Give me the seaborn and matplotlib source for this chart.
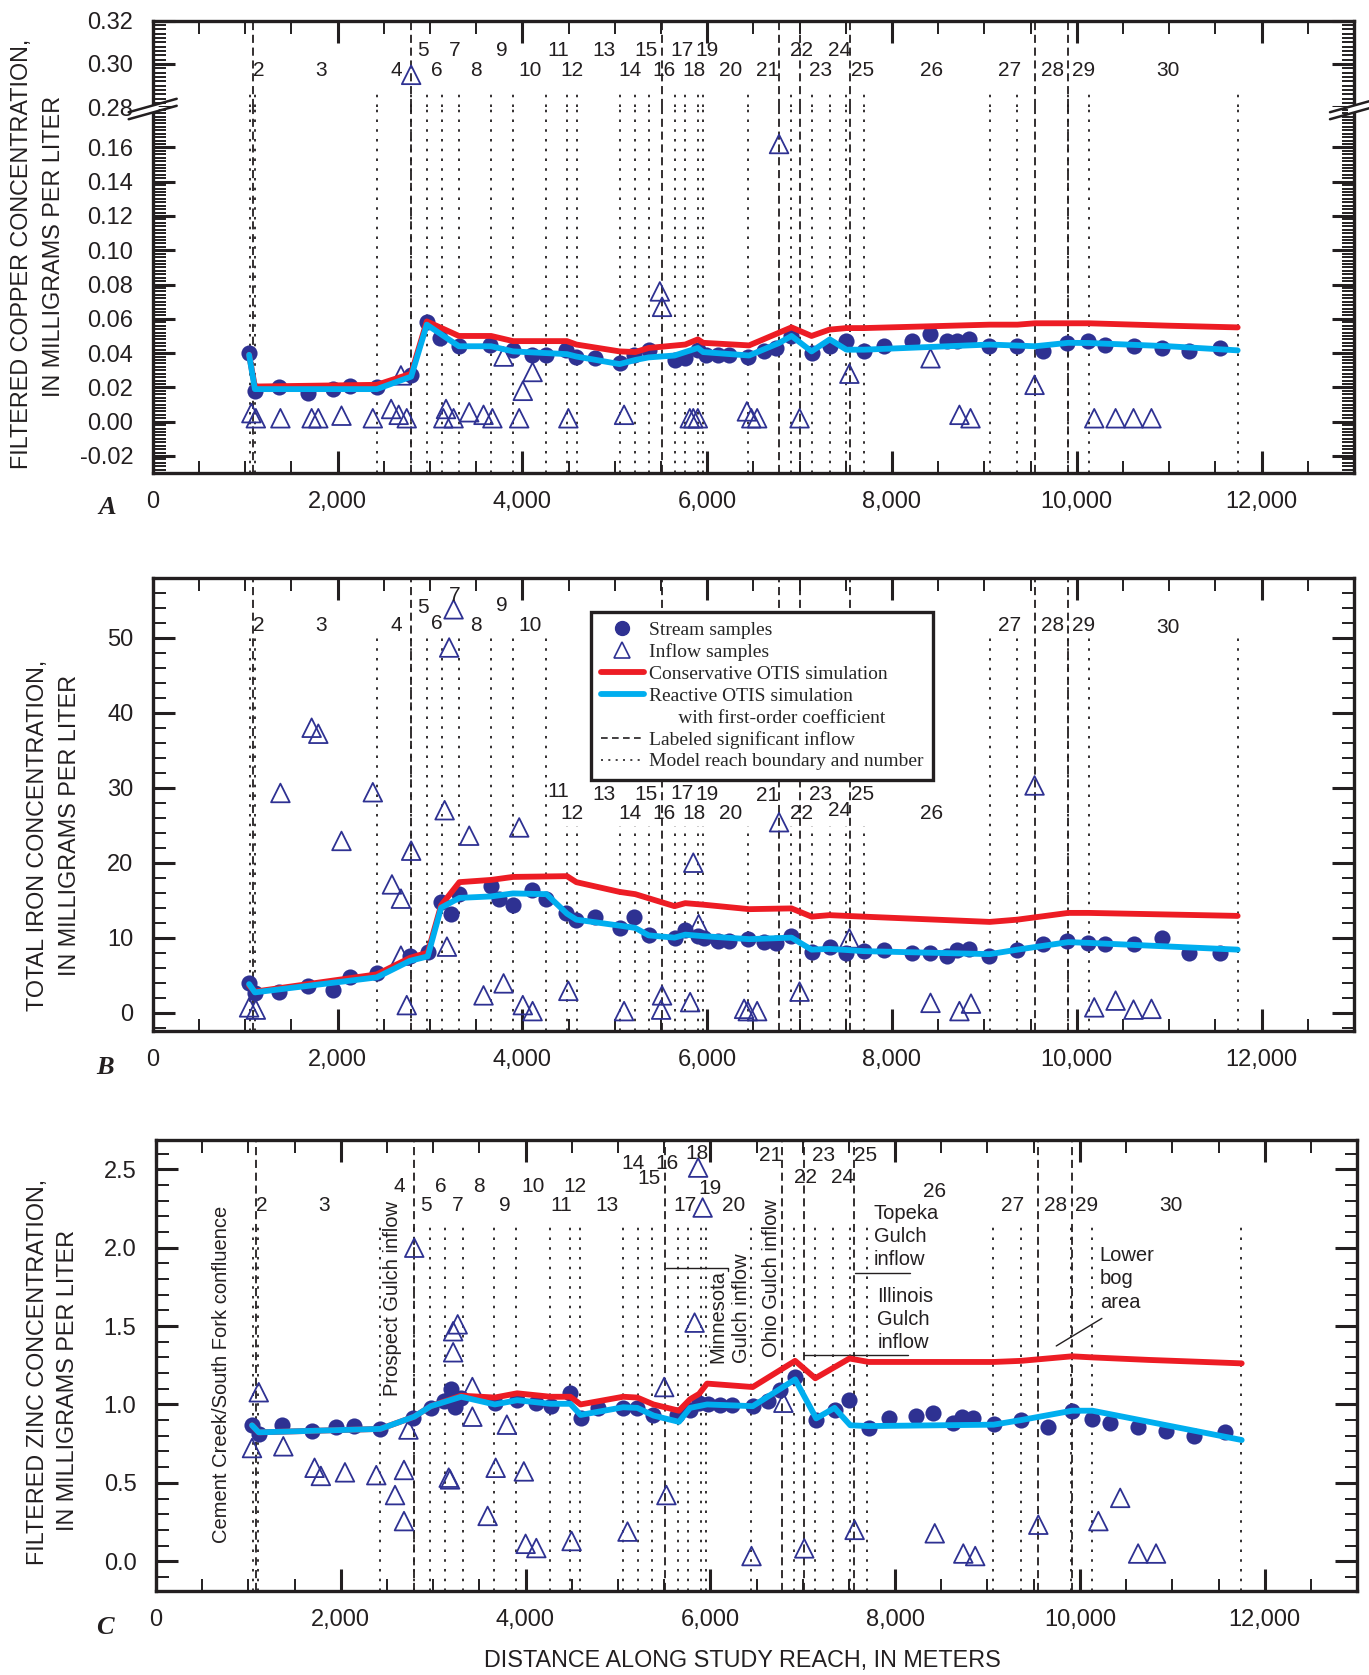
import matplotlib
matplotlib.use("Agg")
import matplotlib.pyplot as plt
import seaborn as sns
import pandas as pd
from matplotlib.lines import Line2D
from matplotlib.patches import Polygon
from matplotlib.ticker import MultipleLocator

# ---------------- DATA ----------------
x_ticks = [0, 2000, 4000, 6000, 8000, 10000, 12000]
x_tick_labels = ["0", "2,000", "4,000", "6,000", "8,000", "10,000", "12,000"]

reach_bounds = [1050, 1110, 2425, 2797, 2971, 3130, 3319, 3662, 3899, 4261, 4483, 4589,
                5053, 5222, 5367, 5647, 5763, 5899, 5957, 6445, 6905, 7133, 7327, 7507,
                7696, 9058, 9358, 9908, 10130, 11741]
inflow_lines = [1080, 2797, 5515, 6780, 7010, 7550, 9550, 9910]

reach_num = list(range(2, 31))
reach_label_x = [1146, 1817, 2639, 2928, 3079, 3264, 3495, 3773, 4086, 4387, 4537, 4884,
                 5162, 5336, 5532, 5729, 5856, 5995, 6250, 6655, 7025, 7222, 7431, 7685,
                 8426, 9271, 9734, 10069, 10984]
cu_label_y = [0.2971, 0.2971, 0.2971, 0.3063, 0.2971, 0.3063, 0.2971, 0.3063, 0.2971, 0.3063,
              0.2971, 0.3063, 0.2971, 0.3063, 0.2971, 0.3063, 0.2971, 0.3063, 0.2971, 0.2971,
              0.3063, 0.2971, 0.3063, 0.2971, 0.2971, 0.2971, 0.2971, 0.2971, 0.2971]
fe_label_y = [51.6, 51.6, 51.6, 54.0, 51.9, 55.6, 51.6, 54.3, 51.6, 29.5, 26.6, 29.1, 26.6,
              29.1, 26.6, 29.2, 26.5, 29.1, 26.5, 28.9, 26.6, 29.1, 26.9, 29.1, 26.6, 51.6,
              51.6, 51.6, 51.4]
zn_label_y = [2.27, 2.27, 2.39, 2.27, 2.39, 2.27, 2.39, 2.27, 2.39, 2.27, 2.39, 2.27, 2.54,
              2.44, 2.54, 2.27, 2.60, 2.38, 2.27, 2.59, 2.45, 2.59, 2.45, 2.59, 2.36, 2.27,
              2.27, 2.27, 2.27]

# Copper (panel A)
cu_stream_x = [1043, 1106, 1367, 1686, 1947, 2140, 2425, 2797, 2966, 3111, 3314, 3652, 3899,
               4101, 4256, 4473, 4585, 4787, 5053, 5213, 5367, 5647, 5763, 5899, 5986, 6116,
               6237, 6440, 6614, 6744, 6903, 7130, 7327, 7498, 7696, 7909, 8214, 8407, 8592,
               8708, 8832, 9054, 9354, 9635, 9898, 10124, 10309, 10623, 10923, 11214, 11546]
cu_stream_y = [0.040, 0.018, 0.0205, 0.017, 0.019, 0.021, 0.020, 0.027, 0.058, 0.049, 0.044,
               0.045, 0.042, 0.039, 0.039, 0.042, 0.038, 0.037, 0.034, 0.039, 0.042, 0.036,
               0.037, 0.042, 0.039, 0.039, 0.039, 0.0375, 0.041, 0.043, 0.050, 0.040, 0.044,
               0.047, 0.041, 0.044, 0.047, 0.051, 0.047, 0.047, 0.048, 0.044, 0.044, 0.041,
               0.046, 0.047, 0.045, 0.044, 0.043, 0.041, 0.043]
cu_inflow_x = [1068, 1116, 1382, 1720, 1792, 2043, 2382, 2580, 2662, 2749, 2686, 2797, 3174,
               3145, 3256, 3425, 3580, 3676, 3797, 3966, 4005, 4111, 4498, 5101, 5488, 5512,
               5812, 5850, 5899, 6430, 6478, 6541, 6778, 7000, 7539, 8417, 8730, 8850, 9543,
               10189, 10420, 10614, 10808]
cu_inflow_y = [0.005, 0.002, 0.002, 0.002, 0.002, 0.0035, 0.002, 0.0074, 0.004, 0.002, 0.027,
               0.295, 0.0074, 0.002, 0.002, 0.0055, 0.004, 0.002, 0.038, 0.002, 0.018, 0.029,
               0.002, 0.004, 0.076, 0.067, 0.002, 0.002, 0.002, 0.006, 0.002, 0.002, 0.162,
               0.002, 0.028, 0.037, 0.004, 0.002, 0.0215, 0.002, 0.002, 0.002, 0.002]
cu_cons_x = [1043, 1106, 2425, 2797, 2966, 3314, 3662, 3899, 4483, 4585, 5053, 5222, 5367,
             5763, 5899, 5957, 6454, 6913, 7130, 7323, 7507, 7696, 9058, 9358, 9548, 10130,
             10993, 11741]
cu_cons_y = [0.039, 0.0205, 0.0215, 0.028, 0.0585, 0.050, 0.050, 0.047, 0.047, 0.045, 0.041,
             0.0406, 0.043, 0.045, 0.048, 0.046, 0.0445, 0.055, 0.050, 0.0537, 0.0546, 0.0546,
             0.0566, 0.0566, 0.0574, 0.0574, 0.056, 0.055]
cu_reac_x = [1043, 1106, 2425, 2797, 2966, 3314, 3662, 3899, 4483, 4585, 5053, 5222, 5367,
             5647, 5899, 5957, 6454, 6778, 6913, 7130, 7327, 7507, 7696, 9058, 9548, 9908,
             10130, 10993, 11741]
cu_reac_y = [0.039, 0.019, 0.019, 0.0263, 0.0566, 0.044, 0.044, 0.041, 0.0394, 0.038, 0.0336,
             0.036, 0.0375, 0.0386, 0.043, 0.0406, 0.0386, 0.0459, 0.050, 0.041, 0.048, 0.042,
             0.042, 0.045, 0.044, 0.046, 0.0459, 0.044, 0.0416]

# Iron (panel B)
fe_stream_x = [1043, 1106, 1367, 1676, 1947, 2140, 2425, 2783, 2976, 3121, 3232, 3319, 3657,
               3749, 3894, 4101, 4261, 4473, 4585, 4787, 5053, 5208, 5367, 5647, 5763, 5899,
               5971, 6116, 6237, 6440, 6614, 6744, 6903, 7130, 7327, 7498, 7696, 7909, 8214,
               8407, 8592, 8708, 8832, 9054, 9354, 9635, 9898, 10124, 10309, 10623, 10923,
               11214, 11546]
fe_stream_y = [4.0, 2.6, 2.7, 3.5, 3.0, 4.7, 5.3, 7.6, 8.1, 14.7, 13.2, 15.8, 16.9, 15.1, 14.4,
               16.3, 15.2, 13.3, 12.4, 12.8, 11.3, 12.8, 10.4, 10.0, 11.0, 10.2, 10.0, 9.6, 9.6,
               9.8, 9.4, 9.3, 10.2, 8.1, 8.7, 8.0, 8.2, 8.4, 7.9, 8.0, 7.6, 8.4, 8.5, 7.6, 8.4,
               9.1, 9.6, 9.3, 9.1, 9.1, 9.9, 8.0, 7.9]
fe_inflow_x = [1043, 1116, 1382, 1720, 1792, 2043, 2382, 2589, 2686, 2797, 2749, 2686, 3159,
               3208, 3256, 3184, 3425, 3580, 3797, 3966, 4005, 4111, 4498, 5101, 5512, 5502,
               5816, 5850, 5908, 6400, 6440, 6541, 6778, 7000, 7539, 8417, 8730, 8855, 9543,
               10189, 10420, 10614, 10808]
fe_inflow_y = [0.7, 0.4, 29.3, 38.0, 37.2, 22.9, 29.4, 17.1, 15.2, 21.6, 1.0, 7.6, 27.0, 48.7,
               53.8, 8.8, 23.6, 2.3, 3.9, 24.7, 1.0, 0.2, 2.9, 0.2, 2.3, 0.4, 1.4, 20.0, 11.8,
               0.5, 0.2, 0.2, 25.4, 2.8, 9.9, 1.3, 0.2, 1.2, 30.3, 0.7, 1.6, 0.4, 0.5]
fe_cons_x = [1043, 1106, 2425, 2783, 2976, 3121, 3319, 3662, 3899, 4483, 4585, 5053, 5222,
             5647, 5763, 5957, 6454, 6913, 7130, 7323, 7696, 9058, 9358, 9908, 10130, 11741]
fe_cons_y = [3.6, 2.8, 5.1, 7.3, 8.0, 14.3, 17.4, 17.7, 18.1, 18.2, 17.4, 16.1, 15.8, 14.2,
             14.6, 14.4, 13.8, 13.9, 12.8, 13.0, 12.8, 12.1, 12.4, 13.3, 13.3, 12.9]
fe_reac_x = [1043, 1106, 2425, 2783, 2976, 3121, 3319, 3662, 3899, 4261, 4483, 4585, 5053,
             5222, 5367, 5647, 5763, 5957, 6454, 6913, 7130, 7323, 7696, 9058, 9358, 9908,
             10130, 11741]
fe_reac_y = [3.8, 2.7, 4.7, 6.9, 7.5, 14.0, 15.3, 15.5, 15.9, 15.8, 13.2, 12.4, 11.6, 11.3,
             10.3, 10.0, 10.4, 10.2, 9.8, 10.0, 8.4, 8.5, 8.2, 7.8, 8.4, 9.4, 9.3, 8.4]

# Zinc (panel C)
zn_stream_x = [1040, 1113, 1369, 1684, 1945, 2143, 2429, 2782, 2975, 3120, 3193, 3241, 3304,
               3667, 3909, 4112, 4272, 4485, 4596, 4789, 5056, 5210, 5385, 5636, 5781, 5878,
               5975, 6110, 6231, 6459, 6625, 6754, 6916, 7140, 7345, 7506, 7714, 7931, 8231,
               8415, 8623, 8724, 8840, 9066, 9361, 9652, 9915, 10136, 10321, 10630, 10930,
               11230, 11566]
zn_stream_y = [0.867, 0.811, 0.867, 0.833, 0.856, 0.862, 0.844, 0.916, 0.978, 1.022, 1.100,
               0.982, 1.044, 1.011, 1.027, 1.011, 0.989, 1.071, 0.911, 0.978, 0.978, 0.978,
               0.933, 0.933, 0.967, 1.011, 1.0, 0.996, 0.996, 0.989, 1.022, 1.095, 1.173, 0.90,
               0.967, 1.029, 0.849, 0.916, 0.929, 0.944, 0.884, 0.922, 0.916, 0.878, 0.90,
               0.856, 0.956, 0.907, 0.884, 0.856, 0.833, 0.796, 0.822]
zn_inflow_x = [1040, 1113, 1379, 1717, 1785, 2046, 2385, 2685, 2588, 2685, 2733, 2796, 3169,
               3183, 3217, 3217, 3266, 3425, 3425, 3590, 3677, 3798, 3982, 4001, 4117, 4499,
               5104, 5501, 5525, 5830, 5868, 5917, 6446, 6791, 7017, 7562, 8429, 8738, 8867,
               9550, 10200, 10436, 10630, 10824]
zn_inflow_y = [0.722, 1.078, 0.733, 0.596, 0.544, 0.567, 0.549, 0.582, 0.422, 0.256, 0.84, 2.0,
               0.533, 0.522, 1.333, 1.467, 1.511, 1.111, 0.922, 0.289, 0.596, 0.871, 0.573,
               0.111, 0.084, 0.129, 0.189, 1.111, 0.422, 1.522, 2.511, 2.256, 0.033, 1.011,
               0.082, 0.20, 0.178, 0.049, 0.033, 0.233, 0.256, 0.404, 0.049, 0.049]
zn_cons_x = [1040, 1113, 2429, 2796, 2975, 3304, 3667, 3909, 4272, 4485, 4596, 5056, 5210,
             5385, 5660, 5781, 5878, 5965, 6459, 6918, 7136, 7506, 7714, 9066, 9361, 9915,
             10136, 10745, 11751]
zn_cons_y = [0.867, 0.822, 0.844, 0.922, 0.989, 1.056, 1.044, 1.071, 1.049, 1.049, 1.0, 1.049,
             1.044, 1.0, 0.96, 1.033, 1.067, 1.133, 1.111, 1.278, 1.167, 1.293, 1.271, 1.271,
             1.278, 1.307, 1.30, 1.284, 1.262]
zn_reac_x = [1040, 1113, 2429, 2796, 2975, 3304, 3667, 3909, 4272, 4485, 4596, 5056, 5210,
             5385, 5660, 5781, 5965, 6459, 6758, 6918, 7146, 7345, 7515, 7714, 9066, 9361,
             9915, 10136, 11751]
zn_reac_y = [0.867, 0.822, 0.844, 0.922, 0.989, 1.049, 1.0, 1.027, 1.004, 1.004, 0.933, 0.982,
             0.978, 0.929, 0.889, 0.978, 1.0, 0.989, 1.10, 1.16, 0.911, 0.978, 0.867, 0.862,
             0.871, 0.90, 0.96, 0.96, 0.773]

legend_labels = ["Stream samples", "Inflow samples", "Conservative OTIS simulation",
                 "Reactive OTIS simulation", "      with first-order coefficient",
                 "Labeled significant inflow", "Model reach boundary and number"]

# ---------------- STYLE ----------------
sns.set_style("white")
plt.rcParams['font.family'] = ['Liberation Sans', 'DejaVu Sans']
plt.rcParams['axes.unicode_minus'] = False

NAVY = '#2E3192'
RED = '#ED1C24'
CYAN = '#00AEEF'
INK = '#231F20'
DOT = (0, (1.4, 4.0))
DASH = (0, (4.5, 2.6))
TICK_FS = 17
NUM_FS = 15
LAB_FS = 16.8

W, H = 1369, 1675
fig = plt.figure(figsize=(W / 100, H / 100), dpi=100)


def box(l, r, t, b):
    return [l / W, 1 - b / H, (r - l) / W, (b - t) / H]


axA_up = fig.add_axes(box(152.7, 1354, 20.7, 107.3))
axA = fig.add_axes(box(152.7, 1354, 107.3, 473.1))
axB = fig.add_axes(box(152.7, 1354, 577.8, 1030.6))
axC = fig.add_axes(box(155.9, 1357.1, 1139.5, 1591))


def style(ax, top=True, bottom=True, xlabels=True):
    for s in ax.spines.values():
        s.set_linewidth(2.4)
        s.set_color(INK)
    ax.set_xlim(0, 13000)
    ax.set_xticks(x_ticks, labels=x_tick_labels if xlabels else [])
    ax.xaxis.set_minor_locator(MultipleLocator(500))
    ax.tick_params(which='both', direction='in', top=top, bottom=bottom,
                   left=True, right=True, colors=INK, labelsize=TICK_FS,
                   labelbottom=xlabels, labeltop=False)
    ax.tick_params(which='major', length=16, width=2.2)
    ax.tick_params(which='minor', length=9, width=1.4)
    ax.tick_params(axis='x', which='major', pad=13)
    ax.tick_params(axis='y', which='major', pad=14)
    ax.set_xlabel("")
    ax.set_ylabel("")


def draw_data(ax, sx, sy, ix, iy, cx, cy, rx, ry):
    sns.scatterplot(x=ix, y=iy, ax=ax, marker='^', s=180, facecolor='none',
                    edgecolor=NAVY, linewidth=1.3, color=NAVY, zorder=3, legend=False)
    sns.scatterplot(x=sx, y=sy, ax=ax, marker='o', s=135, color=NAVY,
                    edgecolor=NAVY, linewidth=0, zorder=4, legend=False)
    sns.lineplot(x=cx, y=cy, ax=ax, color=RED, linewidth=4.2, sort=False,
                 estimator=None, zorder=5, legend=False)
    sns.lineplot(x=rx, y=ry, ax=ax, color=CYAN, linewidth=4.2, sort=False,
                 estimator=None, zorder=6, legend=False)


# ---------------- PANEL A ----------------
A_LO, A_HI = -0.03, 0.1834
for ax in (axA, axA_up):
    draw_data(ax, cu_stream_x, cu_stream_y, cu_inflow_x, cu_inflow_y,
              cu_cons_x, cu_cons_y, cu_reac_x, cu_reac_y)
    for xv in inflow_lines:
        ax.axvline(xv, color=INK, lw=1.3, linestyle=DASH, zorder=2)

axA.vlines(reach_bounds, A_LO, A_HI, colors=INK, linewidth=1.3, linestyles=DOT, zorder=2)
axA_up.vlines(reach_bounds, 0.28, 0.2884, colors=INK, linewidth=1.3, linestyles=DOT, zorder=2)

style(axA, top=False, bottom=True)
axA.set_ylim(A_LO, A_HI)
cu_ticks = [-0.02, 0.00, 0.02, 0.04, 0.06, 0.08, 0.10, 0.12, 0.14, 0.16]
axA.set_yticks(cu_ticks, labels=["%.2f" % v for v in cu_ticks])
axA.yaxis.set_minor_locator(MultipleLocator(0.002))
axA.spines['top'].set_visible(False)

style(axA_up, top=True, bottom=False, xlabels=False)
axA_up.set_ylim(0.28, 0.32)
axA_up.set_yticks([0.28, 0.30, 0.32], labels=["0.28", "0.30", "0.32"])
axA_up.yaxis.set_minor_locator(MultipleLocator(0.002))
axA_up.spines['bottom'].set_visible(False)

for n, xv, yv in zip(reach_num, reach_label_x, cu_label_y):
    axA_up.text(xv, yv, str(n), ha='center', va='center', fontsize=NUM_FS, color=INK, zorder=7)


def break_mark(xc, yc):
    dx, sl, gap = 24, 0.28, 7
    f = lambda x, y: (x / W, 1 - y / H)
    pts = [f(xc - 6, yc - gap / 2 + 6 * sl), f(xc + 6, yc - gap / 2 - 6 * sl),
           f(xc + 6, yc + gap / 2 - 6 * sl), f(xc - 6, yc + gap / 2 + 6 * sl)]
    fig.add_artist(Polygon(pts, closed=True, facecolor='white', edgecolor='none',
                           transform=fig.transFigure, zorder=10))
    for off in (-gap / 2, gap / 2):
        p0 = f(xc - dx, yc + off + dx * sl)
        p1 = f(xc + dx, yc + off - dx * sl)
        fig.add_artist(Line2D([p0[0], p1[0]], [p0[1], p1[1]], color=INK, lw=1.8,
                              transform=fig.transFigure, zorder=11))


break_mark(152.7, 109)
break_mark(1354, 109)

# ---------------- PANEL B ----------------
draw_data(axB, fe_stream_x, fe_stream_y, fe_inflow_x, fe_inflow_y,
          fe_cons_x, fe_cons_y, fe_reac_x, fe_reac_y)
for xv in inflow_lines:
    axB.axvline(xv, color=INK, lw=1.3, linestyle=DASH, zorder=2)
B_LO, B_HI = -2.4, 58
fe_tops = [24.9 if 4400 < b < 8000 else 50.0 for b in reach_bounds]
axB.vlines(reach_bounds, B_LO, fe_tops, colors=INK, linewidth=1.3, linestyles=DOT, zorder=2)
style(axB)
axB.set_ylim(B_LO, B_HI)
axB.set_yticks([0, 10, 20, 30, 40, 50], labels=["0", "10", "20", "30", "40", "50"])
axB.yaxis.set_minor_locator(MultipleLocator(2))
for n, xv, yv in zip(reach_num, reach_label_x, fe_label_y):
    axB.text(xv, yv, str(n), ha='center', va='center', fontsize=NUM_FS, color=INK, zorder=7)

handles = [
    Line2D([], [], marker='o', linestyle='none', color=NAVY, markersize=10),
    Line2D([], [], marker='^', linestyle='none', markerfacecolor='none',
           markeredgecolor=NAVY, markersize=11, markeredgewidth=1.2),
    Line2D([], [], color=RED, lw=4.2),
    Line2D([], [], color=CYAN, lw=4.2),
    Line2D([], [], linestyle='none'),
    Line2D([], [], color=INK, lw=1.2, linestyle=(0, (4, 2.6))),
    Line2D([], [], color=INK, lw=1.2, linestyle=(0, (1.2, 3.2))),
]
leg = axB.legend(handles, legend_labels, loc='upper left', bbox_to_anchor=(0.365, 0.925),
                 borderaxespad=0, frameon=True, fancybox=False, handlelength=2.2,
                 handletextpad=0.25, labelspacing=0.215, borderpad=0.5,
                 prop={'family': ['Liberation Serif', 'DejaVu Serif'], 'size': 14})
leg.get_frame().set_edgecolor(INK)
leg.get_frame().set_linewidth(2.4)
leg.get_frame().set_facecolor('white')
leg.get_frame().set_alpha(1)
leg.set_zorder(20)

# ---------------- PANEL C ----------------
draw_data(axC, zn_stream_x, zn_stream_y, zn_inflow_x, zn_inflow_y,
          zn_cons_x, zn_cons_y, zn_reac_x, zn_reac_y)
for xv in inflow_lines:
    axC.axvline(xv, color=INK, lw=1.3, linestyle=DASH, zorder=2)
C_LO, C_HI = -0.19, 2.69
axC.vlines(reach_bounds, C_LO, 2.17, colors=INK, linewidth=1.3, linestyles=DOT, zorder=2)
style(axC)
axC.set_ylim(C_LO, C_HI)
axC.set_yticks([0, 0.5, 1.0, 1.5, 2.0, 2.5], labels=["0.0", "0.5", "1.0", "1.5", "2.0", "2.5"])
axC.yaxis.set_minor_locator(MultipleLocator(0.1))
for n, xv, yv in zip(reach_num, reach_label_x, zn_label_y):
    axC.text(xv, yv, str(n), ha='center', va='center', fontsize=NUM_FS, color=INK, zorder=7)

afs = 14.5
axC.text(705, 1.19, "Cement Creek/South Fork confluence", rotation=90, ha='center',
         va='center', fontsize=afs, color=INK)
axC.text(2564, 1.678, "Prospect Gulch inflow", rotation=90, ha='center', va='center',
         fontsize=afs, color=INK)
axC.text(6077, 1.262, "Minnesota", rotation=90, ha='center', va='bottom', fontsize=afs, color=INK)
axC.text(6342, 1.262, "Gulch inflow", rotation=90, ha='center', va='bottom', fontsize=afs, color=INK)
axC.text(6662, 1.30, "Ohio Gulch inflow", rotation=90, ha='center', va='bottom', fontsize=afs, color=INK)
axC.plot([5525, 6193, 6193], [1.873, 1.873, 1.85], color=INK, lw=1.0)
axC.text(7769, 2.28, "Topeka\nGulch\ninflow", ha='left', va='top', fontsize=afs,
         linespacing=1.28, color=INK)
axC.plot([7562, 8162], [1.838, 1.838], color=INK, lw=1.0)
axC.text(7806, 1.75, "Illinois\nGulch\ninflow", ha='left', va='top', fontsize=afs,
         linespacing=1.28, color=INK)
axC.plot([7017, 8138], [1.316, 1.316], color=INK, lw=1.0)
axC.text(10215, 2.01, "Lower\nbog\narea", ha='left', va='top', fontsize=afs,
         linespacing=1.28, color=INK)
axC.plot([10238, 9744], [1.549, 1.373], color=INK, lw=1.0)

# ---------------- LABELS ----------------
fig.text(21.4 / W, 1 - 253.6 / H, "FILTERED COPPER CONCENTRATION,", rotation=90,
         ha='center', va='center', fontsize=LAB_FS, color=INK)
fig.text(53.4 / W, 1 - 246.7 / H, "IN MILLIGRAMS PER LITER", rotation=90,
         ha='center', va='center', fontsize=LAB_FS, color=INK)
fig.text(37.4 / W, 1 - 835.7 / H, "TOTAL IRON CONCENTRATION,", rotation=90,
         ha='center', va='center', fontsize=LAB_FS, color=INK)
fig.text(69.4 / W, 1 - 825.0 / H, "IN MILLIGRAMS PER LITER", rotation=90,
         ha='center', va='center', fontsize=LAB_FS, color=INK)
fig.text(37.4 / W, 1 - 1372 / H, "FILTERED ZINC CONCENTRATION,", rotation=90,
         ha='center', va='center', fontsize=LAB_FS, color=INK)
fig.text(67.3 / W, 1 - 1380 / H, "IN MILLIGRAMS PER LITER", rotation=90,
         ha='center', va='center', fontsize=LAB_FS, color=INK)
fig.text(742 / W, 1 - 1661 / H, "DISTANCE ALONG STUDY REACH, IN METERS",
         ha='center', va='center', fontsize=LAB_FS, color=INK)

lfont = dict(family=['Liberation Serif', 'DejaVu Serif'], style='italic',
             weight='bold', fontsize=19, color=INK)
fig.text(106.8 / W, 1 - 508 / H, "A", ha='center', va='center', **lfont)
fig.text(104.7 / W, 1 - 1068 / H, "B", ha='center', va='center', **lfont)
fig.text(104.7 / W, 1 - 1627.6 / H, "C", ha='center', va='center', **lfont)

fig.savefig("out.png", dpi=100)
